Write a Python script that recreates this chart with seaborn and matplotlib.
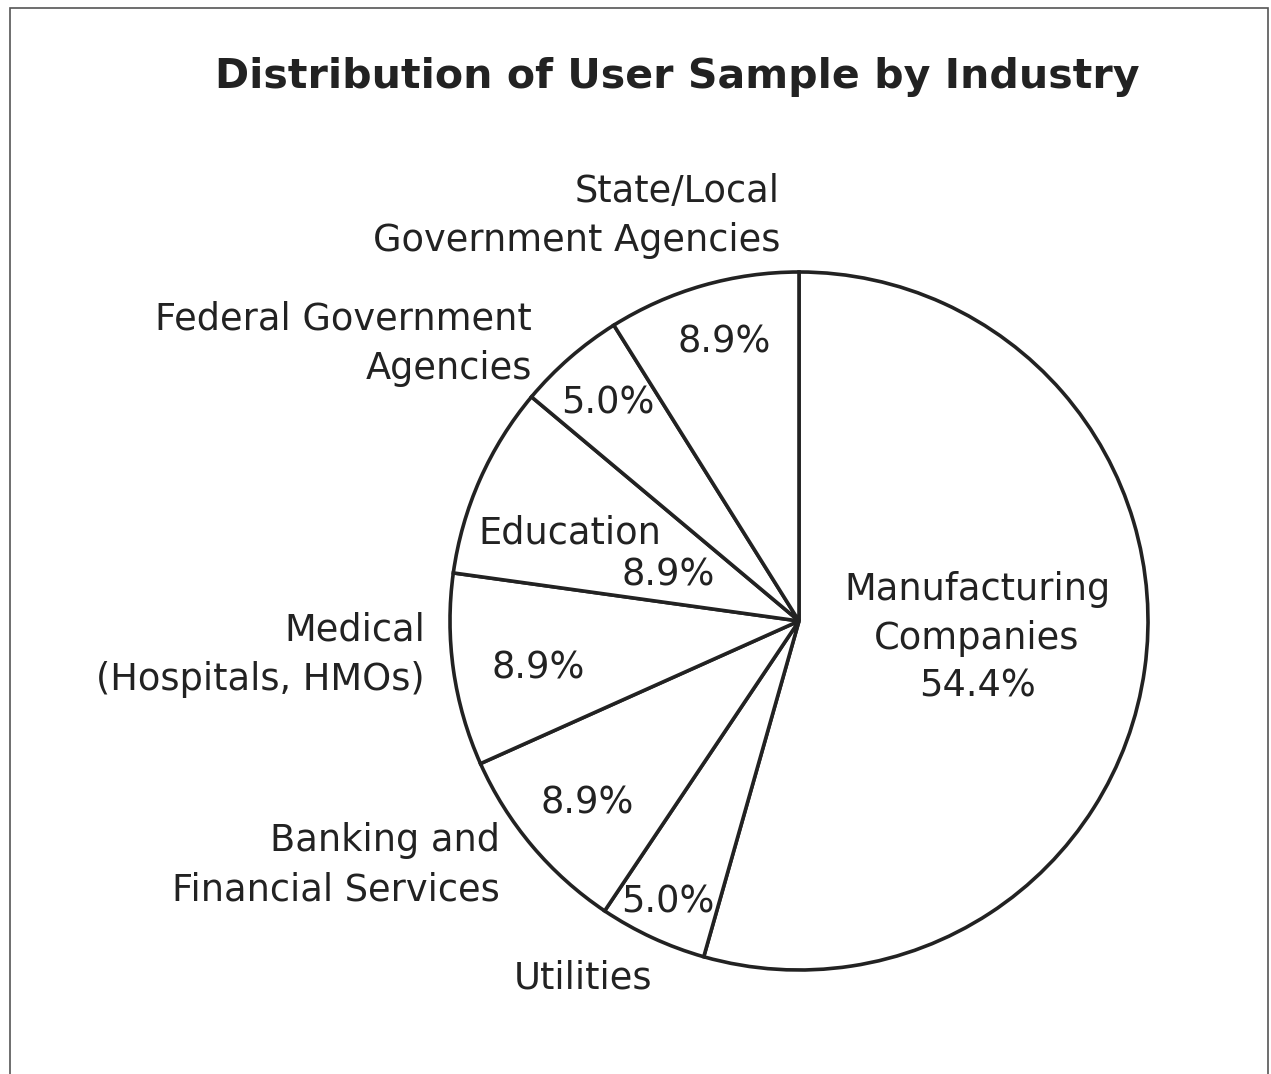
import matplotlib
matplotlib.use("Agg")
import matplotlib.pyplot as plt
from matplotlib.patches import Rectangle
import seaborn as sns

# ---- data ----
categories = ["Manufacturing\nCompanies", "Utilities", "Banking and\nFinancial Services",
              "Medical\n(Hospitals, HMOs)", "Education", "Federal Government\nAgencies",
              "State/Local\nGovernment Agencies"]
shares = [54.4, 5.0, 8.9, 8.9, 8.9, 5.0, 8.9]
title = "Distribution of User Sample by Industry"

sns.set_theme(style="white")
plt.rcParams['font.family'] = ['DejaVu Sans']

W, H = 1271, 1074
fig = plt.figure(figsize=(W / 100, H / 100), dpi=100, facecolor='white')
ax = fig.add_axes([0, 0, 1, 1])
ink = '#222222'

def Y(py):
    return H - py

ax.pie(shares, startangle=90, counterclock=False,
       center=(799, Y(621)), radius=349,
       wedgeprops=dict(facecolor='white', edgecolor=ink, linewidth=2.6))
ax.set_xlim(0, W)
ax.set_ylim(0, H)
ax.set_aspect('equal')
ax.axis('off')

# frame
ax.add_patch(Rectangle((10, Y(1090)), 1258, 1090 - 8, fill=False,
                       edgecolor='#555555', linewidth=1.2, clip_on=False))

ax.text(677, Y(77), title, ha='center', va='center', fontsize=29.6,
        fontweight='bold', color=ink)

fs = 26.5
ls = 1.42
pct = [f"{v:.1f}%" for v in shares]

# category labels
ax.text(977, Y(614), categories[0], ha='center', va='center', fontsize=fs,
        color=ink, linespacing=ls)
ax.text(977, Y(686), pct[0], ha='center', va='center', fontsize=fs, color=ink)
ax.text(583, Y(978), categories[1], ha='center', va='center', fontsize=fs, color=ink)
ax.text(500, Y(865), categories[2], ha='right', va='center', fontsize=fs,
        color=ink, linespacing=ls)
ax.text(425, Y(655), categories[3], ha='right', va='center', fontsize=fs,
        color=ink, linespacing=ls)
ax.text(570, Y(533), categories[4], ha='center', va='center', fontsize=fs, color=ink)
ax.text(532, Y(344), categories[5], ha='right', va='center', fontsize=fs,
        color=ink, linespacing=ls)
ax.text(780, Y(216), categories[6], ha='right', va='center', fontsize=fs,
        color=ink, linespacing=ls)

# percentage labels
pct_pos = [None, (668, 902), (587, 803), (538, 668), (668, 575), (608, 403), (724, 342)]
for p, pos in zip(pct, pct_pos):
    if pos is None:
        continue
    ax.text(pos[0], Y(pos[1]), p, ha='center', va='center', fontsize=fs, color=ink)

fig.savefig("out.png", dpi=100, facecolor='white')
